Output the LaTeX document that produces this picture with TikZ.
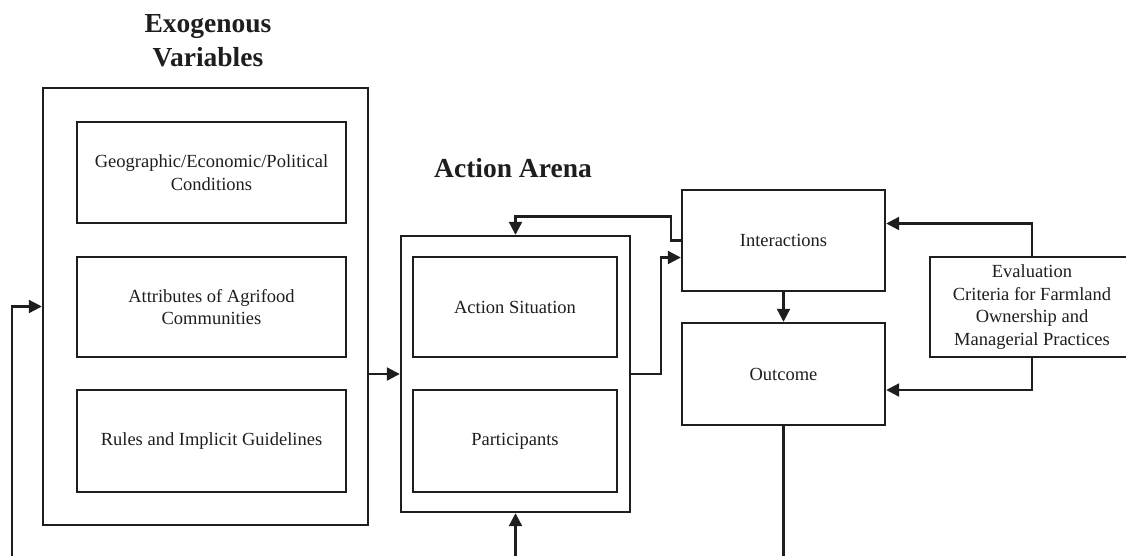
\documentclass[tikz,border=0pt]{standalone}
\usepackage{fontspec}
\setmainfont{Liberation Serif}
\usetikzlibrary{arrows.meta}
\definecolor{ink}{HTML}{1E1E1E}
\tikzset{
  box/.style={draw=ink, line width=2.4pt, rectangle, inner sep=0pt, align=center,
    font=\fontsize{18.5}{22.5}\selectfont, text=ink},
  title/.style={align=center, font=\fontsize{27.5}{34}\selectfont\bfseries, text=ink},
  conn/.style={draw=ink, line width=2.2pt},
  arr/.style={conn, -{Triangle[length=13pt,width=13pt]}}
}
\begin{document}
\begin{tikzpicture}[x=1pt,y=-1pt]
\useasboundingbox (0,0) rectangle (1126,555);
\clip (0,0) rectangle (1126,555);
\fill[white] (0,0) rectangle (1126,555);

% titles
\node[title] (exotitle) at (208,41) {Exogenous\\Variables};
\node[title] (arenatitle) at (513,168) {Action Arena};

% exogenous variables
\node[box, minimum width=325pt, minimum height=437pt] (exo) at (205.5,306.5) {};
\node[box, minimum width=269pt, minimum height=101pt] (geo) at (211.5,172.5) {Geographic/Economic/Political\\Conditions};
\node[box, minimum width=269pt, minimum height=100pt] (attr) at (211.5,307) {Attributes of Agrifood\\Communities};
\node[box, minimum width=269pt, minimum height=102pt] (rules) at (211.5,441) {Rules and Implicit Guidelines};

% action arena
\node[box, minimum width=229pt, minimum height=276pt] (arena) at (515.5,374) {};
\node[box, minimum width=204pt, minimum height=100pt] (sit) at (515,307) {Action Situation};
\node[box, minimum width=204pt, minimum height=102pt] (part) at (515,441) {Participants};

% interactions, outcome, evaluation
\node[box, minimum width=203pt, minimum height=101pt] (inter) at (783.5,240.5) {Interactions};
\node[box, minimum width=203pt, minimum height=102pt] (outc) at (783.5,374) {Outcome};
\node[box, minimum width=204pt, minimum height=100pt] (eval) at (1032,307) {Evaluation\\Criteria for Farmland\\Ownership and\\Managerial Practices};

% free ends at the bottom edge
\coordinate (fbl) at (12,560);
\coordinate (fbm) at (515.5,560);
\coordinate (fbr) at (783.5,560);

% connectors
\draw[arr] (fbl) |- (exo.west);
\draw[arr] (exo.east |- arena.west) -- (arena.west);
\draw[arr] (fbm) -- (arena.south);
\draw[conn] (outc.south) -- (fbr);
\draw[arr] (arena.east) -- ++(30,0) |- ([yshift=-17pt]inter.west);
\draw[arr] (inter.west) -- ++(-10,0) -- ++(0,-24) -| (arena.north);
\draw[arr] (inter.south) -- (outc.north);
\draw[arr] (eval.north) |- ([yshift=17pt]inter.east);
\draw[arr] (eval.south) |- ([yshift=-16pt]outc.east);
\end{tikzpicture}
\end{document}
